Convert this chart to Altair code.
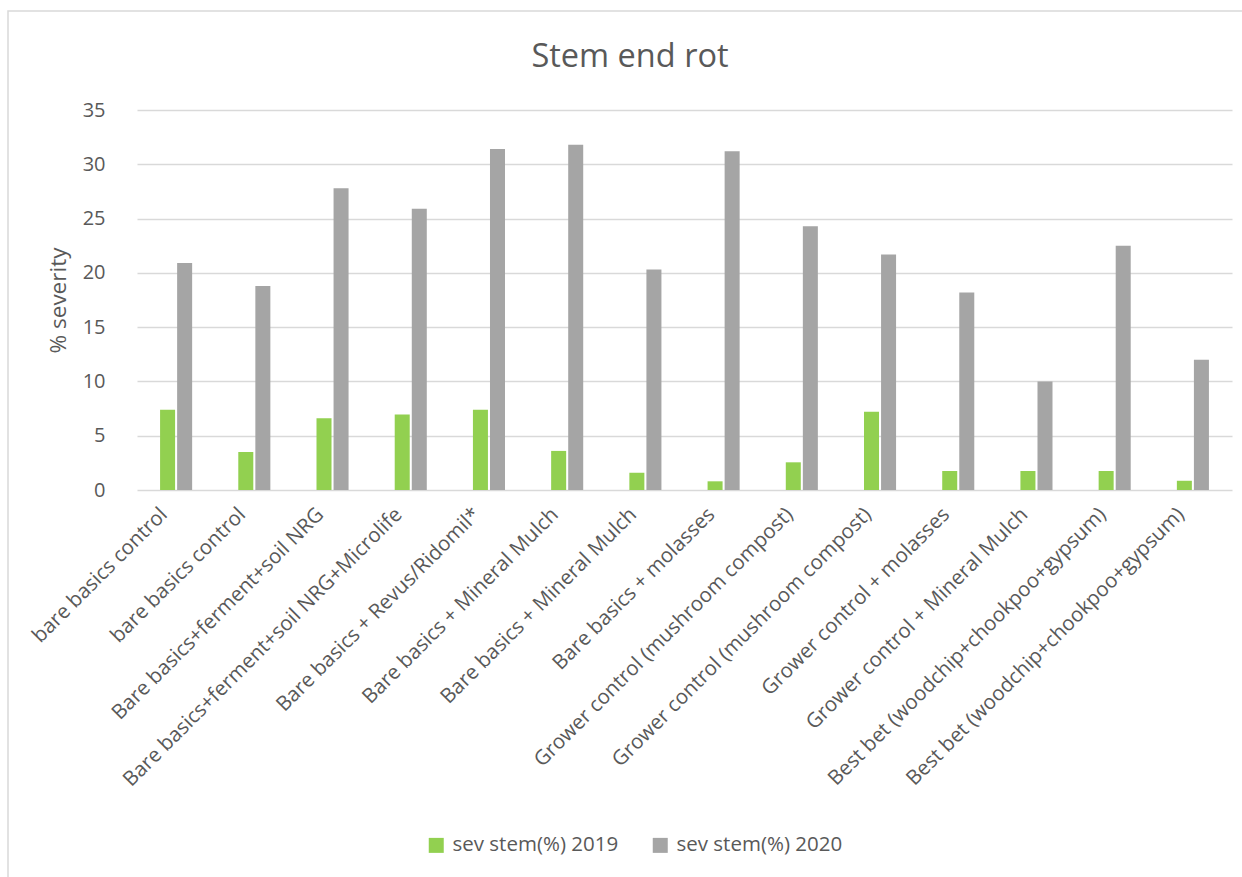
import json

import altair as alt
import pandas as pd

# Treatments in plot order (some names repeat, so bars are keyed by position)
treatments = [
    "bare basics control",
    "bare basics control",
    "Bare basics+ferment+soil NRG",
    "Bare basics+ferment+soil NRG+Microlife",
    "Bare basics + Revus/Ridomil*",
    "Bare basics + Mineral Mulch",
    "Bare basics + Mineral Mulch",
    "Bare basics + molasses",
    "Grower control (mushroom compost)",
    "Grower control (mushroom compost)",
    "Grower control + molasses",
    "Grower control + Mineral Mulch",
    "Best bet (woodchip+chookpoo+gypsum)",
    "Best bet (woodchip+chookpoo+gypsum)",
]
sev_2019 = [7.4, 3.5, 6.6, 6.95, 7.4, 3.6, 1.6, 0.8, 2.55, 7.2, 1.75, 1.75, 1.75, 0.85]
sev_2020 = [20.9, 18.8, 27.8, 25.9, 31.4, 31.8, 20.3, 31.2, 24.3, 21.7, 18.2, 10.0, 22.5, 12.0]
series = ["sev stem(%) 2019", "sev stem(%) 2020"]
series_colors = ["#92D050", "#A5A5A5"]
y_ticks = [0, 5, 10, 15, 20, 25, 30, 35]
chart_title = "Stem end rot"

TEXT = "#595959"
GRID = "#D9D9D9"
FONT = "Open Sans"

rows = []
for i, name in enumerate(treatments):
    rows.append({"idx": i, "treatment": name, "series": series[0], "value": sev_2019[i]})
    rows.append({"idx": i, "treatment": name, "series": series[1], "value": sev_2020[i]})
df = pd.DataFrame(rows)

label_expr = json.dumps(treatments) + "[datum.value]"

bars = (
    alt.Chart(df)
    .mark_bar()
    .encode(
        x=alt.X(
            "idx:O",
            sort=None,
            scale=alt.Scale(range=[9, 1104], paddingInner=0.59, paddingOuter=0.295),
            axis=alt.Axis(
                title=None,
                labelExpr=label_expr,
                labelAngle=-45,
                labelAlign="right",
                labelBaseline="top",
                labelFontSize=20.5,
                labelFont=FONT,
                labelColor=TEXT,
                labelPadding=14,
                labelOffset=-19,
                labelLimit=600,
                ticks=False,
                domain=False,
                grid=False,
            ),
        ),
        xOffset=alt.XOffset(
            "series:N",
            sort=series,
            scale=alt.Scale(paddingInner=0.12, paddingOuter=0),
        ),
        y=alt.Y(
            "value:Q",
            scale=alt.Scale(domain=[0, 35], nice=False),
            axis=alt.Axis(
                title="% severity",
                values=y_ticks,
                titleFontSize=22.5,
                titleFont=FONT,
                titleFontWeight="normal",
                titleColor=TEXT,
                titleAngle=-90,
                titleAlign="center",
                titleBaseline="middle",
                titleX=-70,
                titleY=190,
                labelFontSize=20,
                labelFont=FONT,
                labelColor=TEXT,
                labelPadding=23,
                ticks=False,
                domain=False,
                gridColor=GRID,
                gridWidth=1.5,
            ),
        ),
        color=alt.Color(
            "series:N",
            sort=series,
            scale=alt.Scale(domain=series, range=series_colors),
            legend=alt.Legend(
                title=None,
                orient="none",
                legendX=298,
                legendY=725,
                direction="horizontal",
                symbolType="square",
                symbolSize=225,
                symbolStrokeWidth=0,
                labelFontSize=20.5,
                labelFont=FONT,
                labelColor=TEXT,
                labelOffset=6,
                labelLimit=400,
                columnPadding=31,
                padding=0,
            ),
        ),
    )
)

# Chart heading, centred over the whole chart area
heading = (
    alt.Chart(pd.DataFrame({"t": [chart_title]}))
    .mark_text(fontSize=32.5, font=FONT, color=TEXT, align="center", baseline="alphabetic")
    .encode(text="t:N", x=alt.value(502), y=alt.value(-43))
)

# Light border around the whole chart area
frame = (
    alt.Chart(pd.DataFrame({"k": [0]}))
    .mark_rect(fillOpacity=0, stroke=GRID, strokeWidth=1.5)
    .encode(x=alt.value(-120), x2=alt.value(1200), y=alt.value(-99), y2=alt.value(900))
)

chart = (
    alt.layer(frame, bars, heading)
    .properties(
        width=1095,
        height=380,
        background="white",
        padding={"left": 128, "top": 110, "right": 19, "bottom": 387},
        autosize=alt.AutoSizeParams(type="none"),
    )
    .configure_view(stroke=None)
)

chart.save("out.html", embed_options={"renderer": "svg", "actions": False})
